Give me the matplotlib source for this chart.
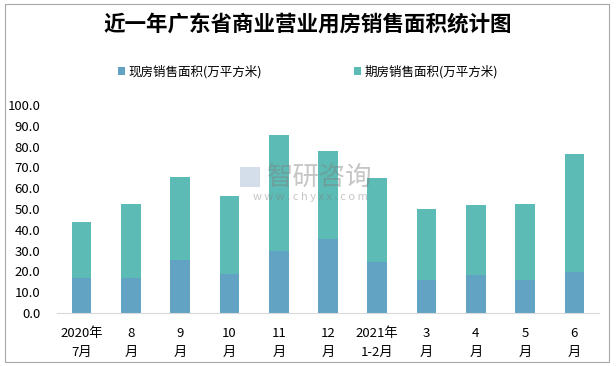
import matplotlib.pyplot as plt
import numpy as np
from matplotlib.patches import Rectangle

plt.rcParams['font.family'] = ['Noto Sans CJK SC', 'DejaVu Sans']

months = ["2020年\n7月", "8\n月", "9\n月", "10\n月", "11\n月", "12\n月",
          "2021年\n1-2月", "3\n月", "4\n月", "5\n月", "6\n月"]
spot = [17.0, 17.0, 25.6, 18.9, 29.8, 35.7, 24.7, 16.0, 18.4, 16.0, 19.9]
total = [43.9, 52.5, 65.5, 56.4, 85.7, 78.0, 65.0, 50.1, 52.1, 52.5, 76.6]
future = [t - s for t, s in zip(total, spot)]

W, H = 616, 366
fig = plt.figure(figsize=(W / 100, H / 100), dpi=100)
fig.patches.append(Rectangle((5 / W, 4 / H), 604 / W, 358 / H, transform=fig.transFigure,
                             fill=False, edgecolor='#A6A6A6', linewidth=0.8))

ax = fig.add_axes([57 / W, (H - 313) / H, 542 / W, 208 / H])
x = np.arange(len(months))
b1 = ax.bar(x, spot, width=0.4, color='#62A3C3', label='现房销售面积(万平方米)')
b2 = ax.bar(x, future, width=0.4, bottom=spot, color='#5CBBB4', label='期房销售面积(万平方米)')

ax.set_ylim(0, 100)
ax.set_xlim(-0.5, len(months) - 0.5)
ax.set_yticks(np.arange(0, 101, 10))
ax.set_yticklabels([f"{v:.1f}" for v in np.arange(0, 101, 10)], fontsize=9.5)
ax.set_xticks(x)
ax.set_xticklabels(months, fontsize=9.5, linespacing=1.6)
ax.tick_params(length=0, pad=10)
ax.tick_params(axis='y', pad=12)
for s in ['top', 'right', 'left']:
    ax.spines[s].set_visible(False)
ax.spines['bottom'].set_color('#D9D9D9')

fig.text(308 / W, 1 - 24 / H, '近一年广东省商业营业用房销售面积统计图', ha='center', va='center',
         fontsize=15.5, fontweight='bold')
fig.legend(handles=[b1, b2], loc='center', bbox_to_anchor=(308 / W, 1 - 72 / H), ncol=2,
           frameon=False, fontsize=9, handlelength=0.6, handleheight=0.6,
           handletextpad=0.3, columnspacing=7.3)

# watermark
fig.patches.append(Rectangle((240 / W, 1 - 187 / H), 20 / W, 20 / H, transform=fig.transFigure,
                             facecolor='#B8C8DC', alpha=0.6, edgecolor='none'))
fig.text(320 / W, 1 - 177 / H, '智研咨询', ha='center', va='center', fontsize=19,
         color='#808080', alpha=0.45)
fig.text(310 / W, 1 - 197 / H, 'w w w . c h y x x . c o m', ha='center', va='center',
         fontsize=8, color='#808080', alpha=0.45)

fig.savefig('out.png', dpi=100)
